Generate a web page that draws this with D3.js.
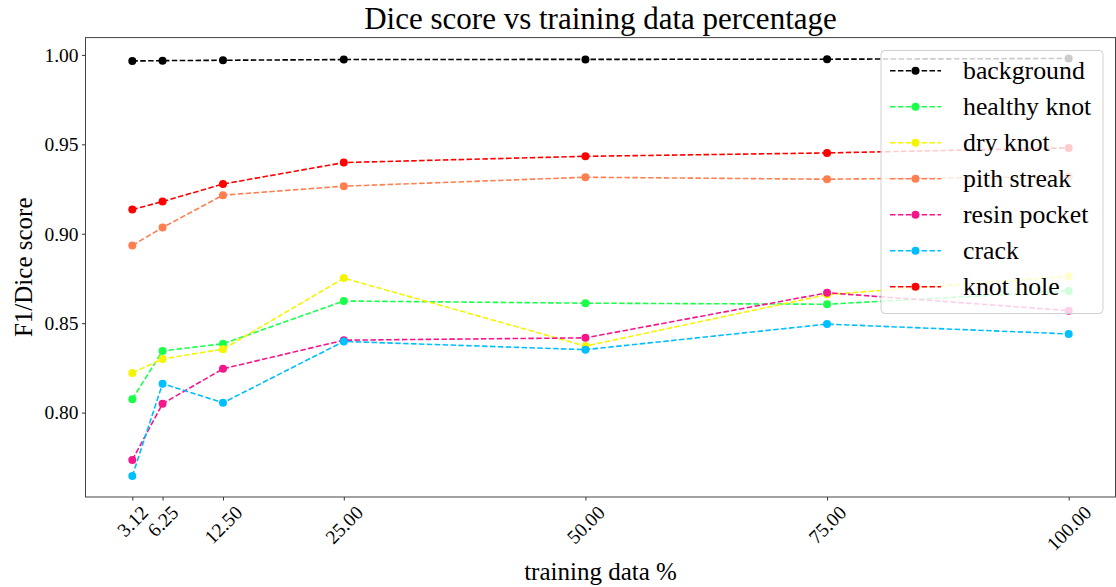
<!DOCTYPE html>
<html>
<head>
<meta charset="utf-8">
<script src="https://cdn.jsdelivr.net/npm/d3@7"></script>
<style>
  body { margin: 0; background: #fff; }
  svg { display: block; }
  text { font-family: "Liberation Serif", "Times New Roman", serif; }
</style>
</head>
<body>
<script>
// training data % on x, one score list per class
var trainingPct = [3.12, 6.25, 12.5, 25, 50, 75, 100];
var xTickLabels = ["3.12", "6.25", "12.50", "25.00", "50.00", "75.00", "100.00"];
var yTicks = [0.80, 0.85, 0.90, 0.95, 1.00];

var classNames = ["background", "healthy knot", "dry knot", "pith streak", "resin pocket", "crack", "knot hole"];
var classColors = ["#000000", "#1aff4a", "#f5f500", "#ff7f50", "#f5168c", "#00bfff", "#ff0000"];

var background  = [0.9966, 0.9968, 0.9970, 0.9974, 0.9975, 0.9976, 0.9980];
var healthyKnot = [0.8075, 0.8345, 0.8385, 0.8624, 0.8612, 0.8606, 0.8680];
var dryKnot     = [0.8222, 0.8300, 0.8355, 0.8752, 0.8372, 0.8660, 0.8762];
var pithStreak  = [0.8935, 0.9035, 0.9216, 0.9266, 0.9316, 0.9305, 0.9320];
var resinPocket = [0.7735, 0.8050, 0.8245, 0.8405, 0.8418, 0.8670, 0.8570];
var crack       = [0.7645, 0.8162, 0.8055, 0.8398, 0.8352, 0.8495, 0.8440];
var knotHole    = [0.9135, 0.9180, 0.9278, 0.9398, 0.9433, 0.9452, 0.9480];

var seriesValues = [background, healthyKnot, dryKnot, pithStreak, resinPocket, crack, knotHole];

var W = 1116, H = 587;
var box = { left: 85.5, right: 1115.5, top: 37.6, bottom: 497 };
var serif = "Liberation Serif";

// matplotlib style 5% margins round the data
function padded(lo, hi) {
  var m = (hi - lo) * 0.05;
  return [lo - m, hi + m];
}

var allY = [].concat.apply([], seriesValues);
var x = d3.scaleLinear()
  .domain(padded(d3.min(trainingPct), d3.max(trainingPct)))
  .range([box.left, box.right]);
var y = d3.scaleLinear()
  .domain(padded(d3.min(allY), d3.max(allY)))
  .range([box.bottom, box.top]);

var svg = d3.select(document.body).append("svg")
  .attr("width", W).attr("height", H);

// axes
var xAxis = svg.append("g")
  .attr("transform", "translate(0," + box.bottom + ")")
  .call(d3.axisBottom(x).tickValues(trainingPct).tickSize(3.5).tickPadding(3.5)
    .tickFormat(function(d, i) { return xTickLabels[i]; }));

var yAxis = svg.append("g")
  .attr("transform", "translate(" + box.left + ",0)")
  .call(d3.axisLeft(y).tickValues(yTicks).tickSize(3.5).tickPadding(3.5)
    .tickFormat(d3.format(".2f")));

[xAxis, yAxis].forEach(function(a) {
  a.attr("font-family", serif);
  a.select(".domain").remove();
  a.selectAll(".tick line").attr("stroke", "#333").attr("stroke-width", 1);
  a.selectAll(".tick text")
    .attr("fill", "#000")
    .style("font-family", serif)
    .style("font-size", "19.5px");
});

// rotate x labels 45deg round their centre, like ha=center
xAxis.selectAll(".tick text").each(function() {
  var t = d3.select(this);
  var w = this.getComputedTextLength();
  var h = 15;
  var half = (w + h) * Math.SQRT1_2 / 2;
  t.attr("y", null).attr("dy", null)
    .attr("text-anchor", "middle")
    .attr("dominant-baseline", "central")
    .attr("transform", "translate(0," + (7 + half) + ") rotate(-45)");
});

// frame
svg.append("rect")
  .attr("x", box.left).attr("y", box.top)
  .attr("width", box.right - box.left).attr("height", box.bottom - box.top)
  .attr("fill", "none").attr("stroke", "#444").attr("stroke-width", 1);

// lines
var line = d3.line()
  .x(function(d, i) { return x(trainingPct[i]); })
  .y(function(d) { return y(d); });

var plot = svg.append("g");
seriesValues.forEach(function(vals, k) {
  plot.append("path")
    .attr("d", line(vals))
    .attr("fill", "none")
    .attr("stroke", classColors[k])
    .attr("stroke-width", 1.6)
    .attr("stroke-dasharray", "5.5,2.4");
  plot.selectAll(null).data(vals).enter().append("circle")
    .attr("cx", function(d, i) { return x(trainingPct[i]); })
    .attr("cy", function(d) { return y(d); })
    .attr("r", 4)
    .attr("fill", classColors[k]);
});

// legend, upper right, semi transparent
var leg = { x: 881, y: 50.5, w: 222, h: 263, row: 36, first: 70.7 };
var lg = svg.append("g");
lg.append("rect")
  .attr("x", leg.x).attr("y", leg.y)
  .attr("width", leg.w).attr("height", leg.h)
  .attr("rx", 4)
  .attr("fill", "#fff").attr("fill-opacity", 0.8)
  .attr("stroke", "#d0d0d0").attr("stroke-width", 1);

classNames.forEach(function(name, k) {
  var ry = leg.first + k * leg.row;
  lg.append("line")
    .attr("x1", 890).attr("x2", 941).attr("y1", ry).attr("y2", ry)
    .attr("stroke", classColors[k]).attr("stroke-width", 1.6)
    .attr("stroke-dasharray", "5.5,2.4");
  lg.append("circle").attr("cx", 915.5).attr("cy", ry).attr("r", 4)
    .attr("fill", classColors[k]);
  lg.append("text")
    .attr("x", 963).attr("y", ry + 8.5)
    .style("font-family", serif)
    .style("font-size", "25.8px")
    .text(name);
});

// titles
svg.append("text")
  .attr("x", (box.left + box.right) / 2).attr("y", 29)
  .attr("text-anchor", "middle")
  .style("font-family", serif)
  .style("font-size", "31px")
  .text("Dice score vs training data percentage");

svg.append("text")
  .attr("x", (box.left + box.right) / 2).attr("y", 580)
  .attr("text-anchor", "middle")
  .style("font-family", serif)
  .style("font-size", "25px")
  .text("training data %");

svg.append("text")
  .attr("transform", "translate(32," + ((box.top + box.bottom) / 2) + ") rotate(-90)")
  .attr("text-anchor", "middle")
  .style("font-family", serif)
  .style("font-size", "25px")
  .text("F1/Dice score");
</script>
</body>
</html>
